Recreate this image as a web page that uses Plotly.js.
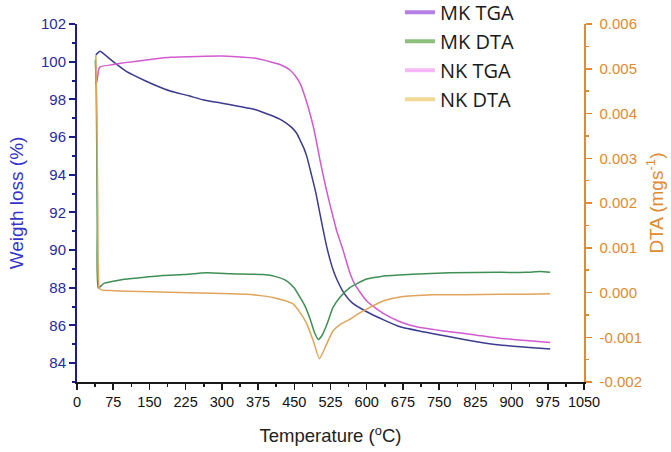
<!DOCTYPE html>
<html>
<head>
<meta charset="utf-8">
<script src="https://cdn.plot.ly/plotly-3.0.1.min.js"></script>
<style>html,body{margin:0;padding:0;background:#fff;}#chart{width:671px;height:452px;}</style>
</head>
<body>
<div id="chart"></div>
<script>
// MK TGA (weight %, left axis)
const mkTgaT = [39, 46, 48, 75, 103, 140, 172, 193, 230, 262, 300, 331, 370, 400, 420, 434, 445, 455, 462, 470, 476, 486, 495, 503, 510, 517, 525, 531, 538, 551, 570, 600, 635, 669, 720, 772, 825, 876, 930, 980];
const mkTgaW = [100.35, 100.53, 100.55, 100.0, 99.47, 99.0, 98.64, 98.44, 98.2, 97.97, 97.8, 97.65, 97.45, 97.17, 96.95, 96.73, 96.5, 96.2, 95.84, 95.4, 94.96, 93.95, 93.0, 91.95, 91.05, 90.2, 89.4, 88.9, 88.45, 87.8, 87.2, 86.73, 86.3, 85.93, 85.65, 85.4, 85.15, 84.96, 84.85, 84.75];
// NK TGA
const nkTgaT = [38, 41, 45, 48, 75, 100, 140, 172, 193, 250, 300, 331, 370, 400, 420, 441, 452, 462, 472, 483, 489, 496, 503, 510, 517, 524, 531, 538, 551, 565, 576, 600, 634, 669, 703, 740, 772, 825, 876, 930, 980];
const nkTgaW = [98.85, 98.93, 99.6, 99.73, 99.85, 99.95, 100.08, 100.18, 100.23, 100.28, 100.3, 100.26, 100.18, 100.0, 99.85, 99.56, 99.25, 98.85, 98.15, 97.2, 96.6, 95.75, 94.8, 93.95, 93.15, 92.4, 91.7, 91.0, 90.0, 88.8, 88.15, 87.3, 86.64, 86.2, 85.93, 85.78, 85.67, 85.5, 85.32, 85.2, 85.1];
// MK DTA (right axis)
const mkDtaT = [38, 40, 42, 44, 55, 75, 95, 130, 178, 220, 268, 320, 386, 410, 434, 450, 462, 472, 483, 492, 500, 508, 518, 530, 545, 565, 580, 600, 630, 669, 720, 772, 876, 930, 960, 980];
const mkDtaV = [0.0052, 0.0045, 0.0015, 0.0001, 0.0002, 0.00025, 0.00029, 0.00033, 0.00038, 0.0004, 0.00044, 0.00042, 0.0004, 0.00036, 0.00026, 0.0001, -0.00011, -0.0003, -0.0006, -0.0009, -0.00105, -0.00095, -0.0007, -0.00034, -0.0001, 0.00011, 0.0002, 0.0003, 0.00036, 0.00039, 0.00042, 0.00044, 0.00045, 0.00045, 0.00047, 0.00045];
// NK DTA
const nkDtaT = [39, 41, 43, 46, 50, 75, 130, 213, 300, 351, 380, 406, 430, 448, 462, 476, 490, 502, 515, 530, 547, 565, 582, 600, 634, 669, 737, 800, 876, 930, 980];
const nkDtaV = [0.0053, 0.0040, 0.0020, 0.0001, 0.00006, 0.00004, 0.00002, 0.0, -0.00002, -0.00004, -0.00007, -0.00011, -0.00018, -0.00026, -0.00045, -0.0007, -0.0011, -0.00148, -0.0012, -0.00086, -0.0007, -0.0006, -0.00048, -0.00037, -0.00019, -0.0001, -0.00005, -0.00005, -0.00004, -0.00004, -0.00003];

const legendNames = ['MK TGA', 'MK DTA', 'NK TGA', 'NK DTA'];
const legendColors = ['#b57fe6', '#8cc07c', '#f5b8f5', '#f2d996'];
const curveColors = ['#3b3b8f', '#3f8f55', '#d05ad0', '#e0a45a'];

const rightTickVals = [-0.002, -0.001, 0, 0.001, 0.002, 0.003, 0.004, 0.005, 0.006];
const rightTickText = ['-0.002', '-0.001', '0.000', '0.001', '0.002', '0.003', '0.004', '0.005', '0.006'];

const sm = {shape: 'spline', smoothing: 0.5};
const traces = [
  {x: mkDtaT, y: mkDtaV, yaxis: 'y2', mode: 'lines', line: Object.assign({color: curveColors[1], width: 1.5}, sm), showlegend: false},
  {x: nkDtaT, y: nkDtaV, yaxis: 'y2', mode: 'lines', line: Object.assign({color: curveColors[3], width: 1.5}, sm), showlegend: false},
  {x: mkTgaT, y: mkTgaW, mode: 'lines', line: Object.assign({color: curveColors[0], width: 1.5}, sm), showlegend: false},
  {x: nkTgaT, y: nkTgaW, mode: 'lines', line: Object.assign({color: curveColors[2], width: 1.5}, sm), showlegend: false}
];
legendNames.forEach((n, i) => {
  traces.push({x: [null], y: [null], mode: 'lines', name: n, line: {color: legendColors[i], width: 4}, showlegend: true, hoverinfo: 'skip'});
});

const font = 'Liberation Sans, Arial, sans-serif';
const layout = {
  width: 671, height: 452,
  margin: {l: 77, r: 87, t: 24, b: 70, autoexpand: false},
  paper_bgcolor: '#fff', plot_bgcolor: '#fff',
  font: {family: font},
  showlegend: true,
  legend: {x: 0.637, y: 1.087, xanchor: 'left', yanchor: 'top', bgcolor: 'rgba(0,0,0,0)',
    font: {family: 'Open Sans, sans-serif', size: 20, color: '#1a1a1a'}, tracegroupgap: 0},
  xaxis: {
    range: [0, 1050], tick0: 0, dtick: 75, ticks: 'outside', ticklen: 6, tickwidth: 1.5, tickcolor: '#1a1a1a',
    showline: true, linecolor: '#1a1a1a', linewidth: 2, showgrid: false, zeroline: false,
    minor: {dtick: 37.5, ticks: 'outside', ticklen: 3, tickwidth: 1.5, tickcolor: '#1a1a1a', showgrid: false},
    tickfont: {size: 14.5, color: '#111'},
    title: {text: 'Temperature (<sup>o</sup>C)', font: {size: 18.5, color: '#222'}, standoff: 20}
  },
  yaxis: {
    range: [83, 102], tick0: 0, dtick: 2, ticks: 'outside', ticklen: 6, tickwidth: 2, tickcolor: '#1c1c8c',
    showline: true, linecolor: '#1c1c8c', linewidth: 2, showgrid: false, zeroline: false,
    minor: {dtick: 1, ticks: 'outside', ticklen: 3, tickwidth: 2, tickcolor: '#1c1c8c', showgrid: false},
    tickfont: {size: 15, color: '#2a2aa0'},
    title: {text: 'Weigth loss (%)', font: {size: 19, color: '#3333cc'}, standoff: 12}
  },
  yaxis2: {
    overlaying: 'y', side: 'right', range: [-0.002, 0.006],
    tickmode: 'array', tickvals: rightTickVals, ticktext: rightTickText,
    ticks: 'outside', ticklen: 6, tickwidth: 1.5, tickcolor: '#e08b2e', ticklabelstandoff: 5,
    showline: true, linecolor: '#e08b2e', linewidth: 1.5, showgrid: false, zeroline: false,
    minor: {dtick: 0.0005, ticks: 'outside', ticklen: 3, tickwidth: 1.5, tickcolor: '#e08b2e', showgrid: false},
    tickfont: {size: 15, color: '#e08b2e'},
    title: {text: 'DTA (mgs<sup>-1</sup>)', font: {size: 19, color: '#e08b2e'}, standoff: 8}
  }
};
Plotly.newPlot('chart', traces, layout, {displayModeBar: false, staticPlot: true});
</script>
</body>
</html>
